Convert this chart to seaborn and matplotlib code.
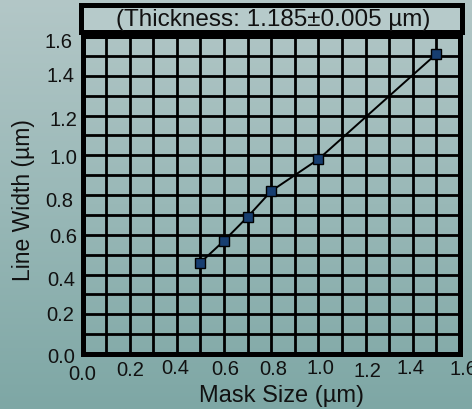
import numpy as np
import pandas as pd
import matplotlib
matplotlib.use("Agg")
import matplotlib.pyplot as plt
import matplotlib.transforms as mtransforms
from matplotlib.colors import LinearSegmentedColormap
import seaborn as sns

# ---- data ----
mask_size = [0.5, 0.6, 0.7, 0.8, 1.0, 1.5]
line_width = [0.46, 0.57, 0.69, 0.82, 0.98, 1.51]
x_ticks = [0.0, 0.2, 0.4, 0.6, 0.8, 1.0, 1.2, 1.4, 1.6]
x_tick_labels = ["0.0", "0.2", "0.4", "0.6", "0.8", "1.0", "1.2", "1.4", "1.6"]
y_ticks = [0.0, 0.2, 0.4, 0.6, 0.8, 1.0, 1.2, 1.4, 1.6]
y_tick_labels = ["0.0", "0.2", "0.4", "0.6", "0.8", "1.0", "1.2", "1.4", "1.6"]
subtitle = "(Thickness: 1.185\u00b10.005 \u00b5m)"
x_label = "Mask Size (\u00b5m)"
y_label = "Line Width (\u00b5m)"

# hand-placed label jitter (pixels): (dx, dy) with dy downward
x_jitter = [(-0.5, 20), (0.4, 16), (-1.7, 14), (1.1, 15), (2, 15), (2, 14), (1.5, 17), (-2.5, 14), (3.5, 15)]
y_jitter = [(7.5, 3), (8.5, 0), (7.5, 5), (5.5, 2), (9.5, 6), (5.5, 2), (5.5, 4), (8.5, 0), (10.5, 6)]

sns.set_theme(style="white")
plt.rcParams["font.family"] = ["Liberation Sans", "DejaVu Sans"]

W, H = 472, 410
fig = plt.figure(figsize=(W / 100, H / 100), dpi=100)

# gradient background
bg = fig.add_axes([0, 0, 1, 1], zorder=-10)
cmap = LinearSegmentedColormap.from_list("bg", ["#b3c7c7", "#99b8b7", "#7ea7a5"])
grad = np.linspace(0, 1, 256).reshape(-1, 1)
bg.imshow(grad, aspect="auto", cmap=cmap, extent=[0, 1, 0, 1], origin="upper")
bg.set_axis_off()

# main axes
ax = fig.add_axes([82.5 / W, (H - 355) / H, (460 - 82.5) / W, (355 - 37) / H])
ax.set_facecolor("none")
df = pd.DataFrame({"mask": mask_size, "lw": line_width})
sns.lineplot(data=df, x="mask", y="lw", ax=ax, color="black", linewidth=1.4,
             marker="s", markersize=7.5, markerfacecolor="#173e70",
             markeredgecolor="black", markeredgewidth=1.0, zorder=5)

ax.set_xlim(0, 1.6)
ax.set_ylim(0, 1.6)
ax.set_xticks(np.round(np.arange(0, 1.61, 0.1), 2))
ax.set_yticks(np.round(np.arange(0, 1.61, 0.1), 2))
ax.grid(True, color="black", linewidth=2.0)
ax.tick_params(length=0, labelbottom=False, labelleft=False)
for s in ["left", "bottom", "right", "top"]:
    ax.spines[s].set_visible(True)
    ax.spines[s].set_color("black")
    ax.spines[s].set_linewidth(3.6)

# tick labels
for v, lab, (dx, dy) in zip(x_ticks, x_tick_labels, x_jitter):
    tr = mtransforms.offset_copy(ax.get_xaxis_transform(), fig=fig, x=dx, y=-dy, units="dots")
    ax.text(v, 0, lab, transform=tr, ha="center", va="center", fontsize=14.5, color="#111111", clip_on=False)
for v, lab, (dx, dy) in zip(y_ticks, y_tick_labels, y_jitter):
    tr = mtransforms.offset_copy(ax.get_yaxis_transform(), fig=fig, x=-dx, y=-dy, units="dots")
    ax.text(0, v, lab, transform=tr, ha="right", va="center", fontsize=14.5, color="#111111", clip_on=False)

ax.set_xlabel(x_label, fontsize=17, color="#111111")
ax.set_ylabel(y_label, fontsize=16.5, color="#111111")
ax.xaxis.set_label_coords(0.526, -0.095)
ax.yaxis.set_label_coords(-0.125, 0.487)

# subtitle box
tb = fig.add_axes([80.5 / W, (H - 32.5) / H, (461.5 - 80.5) / W, (32.5 - 5.5) / H])
tb.set_facecolor("#b6caca")
tb.set_xticks([])
tb.set_yticks([])
for s in tb.spines.values():
    s.set_visible(True)
    s.set_color("black")
    s.set_linewidth(3.6)
tb.text(0.505, 0.45, subtitle, ha="center", va="center", fontsize=17.5, color="#111111",
        transform=tb.transAxes)

fig.savefig("out.png", dpi=100)
